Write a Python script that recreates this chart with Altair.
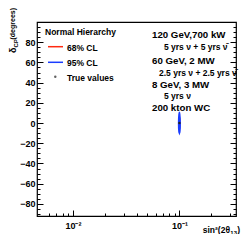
import altair as alt
import pandas as pd

# ---------------- data ----------------
c95_s2 = [0.1000, 0.1009, 0.1017, 0.1021, 0.1019, 0.1012, 0.1000, 0.0989, 0.0981, 0.0979, 0.0982, 0.0990]
c95_dcp = [11.0, 9.0, 5.0, 0.0, -5.0, -9.0, -10.5, -9.0, -5.0, 0.0, 5.0, 9.0]
c68_s2 = [0.1000, 0.1006, 0.1009, 0.1006, 0.1000, 0.0994, 0.0991, 0.0994]
c68_dcp = [6.0, 4.0, 0.0, -4.0, -6.0, -4.0, 0.0, 4.0]
true_s2 = [0.1]
true_dcp = [0.0]

legend_title = "Normal Hierarchy"
legend_labels = ["68% CL", "95% CL", "True values"]
legend_colors = ["#ff2a10", "#1a3cff", "#000000"]
info_lines = ["120 GeV,700 kW", "5 yrs \u03bd + 5 yrs \u03bd\u0304", "60 GeV, 2 MW",
              "2.5 yrs \u03bd + 2.5 yrs \u03bd\u0304", "8 GeV, 3 MW", "5 yrs \u03bd", "200 kton WC"]

x_major = [0.01, 0.1]
x_minor = [0.006, 0.007, 0.008, 0.009, 0.02, 0.03, 0.04, 0.05, 0.06, 0.07, 0.08, 0.09, 0.2, 0.3]
y_major = [-80, -60, -40, -20, 0, 20, 40, 60, 80]
y_minor = [-90, -85, -75, -70, -65, -55, -50, -45, -35, -30, -25, -15, -10, -5,
           5, 10, 15, 25, 30, 35, 45, 50, 55, 65, 70, 75, 85, 90, 95]
X_DOMAIN = [0.0046, 0.34]
Y_DOMAIN = [-92, 100]

FONT = "Liberation Sans"

c95 = pd.DataFrame({"s2": c95_s2, "dcp": c95_dcp, "o": list(range(len(c95_s2)))})
c68 = pd.DataFrame({"s2": c68_s2, "dcp": c68_dcp, "o": list(range(len(c68_s2)))})
tv = pd.DataFrame({"s2": true_s2, "dcp": true_dcp})

xs = alt.Scale(type="log", domain=X_DOMAIN, nice=False)
ys = alt.Scale(domain=Y_DOMAIN, nice=False, zero=False)


def tick_axis(orient, values, size):
    return alt.Axis(orient=orient, values=values, labels=False, domain=False, grid=False,
                    title=None, ticks=True, tickSize=size, offset=-size,
                    tickColor="black", tickWidth=1)


x_lab = alt.Axis(orient="bottom", values=x_major, ticks=False, domain=False, grid=False,
                 title=None, labelPadding=5, labelFont=FONT, labelFontSize=9,
                 labelFontWeight="bold", labelColor="black",
                 labelExpr="datum.value < 0.05 ? '10\u207b\u00b2' : '10\u207b\u00b9'")
y_lab = alt.Axis(orient="left", values=y_major, ticks=False, domain=False, grid=False,
                 title=None, labelPadding=2, labelFont=FONT, labelFontSize=9,
                 labelFontWeight="bold", labelColor="black")

red68 = alt.Chart(c68).mark_line(interpolate="linear-closed", color=legend_colors[0],
                                  strokeWidth=1.2).encode(
    x=alt.X("s2:Q", scale=xs, axis=x_lab),
    y=alt.Y("dcp:Q", scale=ys, axis=y_lab),
    order="o:Q")

blue95 = alt.Chart(c95).mark_line(interpolate="linear-closed", color=legend_colors[1],
                                  fill=legend_colors[1], strokeWidth=1.2).encode(
    x=alt.X("s2:Q", scale=xs, axis=tick_axis("bottom", x_major, 6)),
    y=alt.Y("dcp:Q", scale=ys, axis=tick_axis("left", y_major, 6)),
    order="o:Q")

truept = alt.Chart(tv).mark_point(shape="circle", filled=True, size=6, color="#202020",
                                  opacity=1).encode(
    x=alt.X("s2:Q", scale=xs, axis=tick_axis("bottom", x_minor, 3)),
    y=alt.Y("dcp:Q", scale=ys, axis=tick_axis("left", y_minor, 3)))

rmaj = alt.Chart(tv).mark_point(opacity=0).encode(
    x=alt.X("s2:Q", scale=xs, axis=None),
    y=alt.Y("dcp:Q", scale=ys, axis=tick_axis("right", y_major, 6)))
rmin = alt.Chart(tv).mark_point(opacity=0).encode(
    x=alt.X("s2:Q", scale=xs, axis=None),
    y=alt.Y("dcp:Q", scale=ys, axis=tick_axis("right", y_minor, 3)))

one = pd.DataFrame({"k": [0]})


def txt(s, x, y, size=9, weight="bold", align="left", angle=0, color="black"):
    return alt.Chart(one).mark_text(text=s, align=align, baseline="middle", font=FONT,
                                    fontSize=size, fontWeight=weight, angle=angle,
                                    color=color).encode(x=alt.value(x), y=alt.value(y))


layers = [red68, blue95, truept, rmaj, rmin]

# legend box
layers.append(txt(legend_title, 8, 10, size=8.5))
for lab, yy in zip(legend_labels, [25.7, 40.7, 55.7]):
    layers.append(txt(lab, 30, yy, size=8.5))
for col, yy in zip(legend_colors[:2], [24.7, 40.3]):
    layers.append(alt.Chart(one).mark_rule(color=col, strokeWidth=1.5).encode(
        x=alt.value(11), x2=alt.value(26), y=alt.value(yy)))
layers.append(alt.Chart(one).mark_point(shape="circle", filled=True, size=6,
                                        color="#202020").encode(
    x=alt.value(18.3), y=alt.value(54.7)))

# info block
info_x = [115, 127, 115, 122, 115, 127, 115]
info_y = [13, 24.7, 39.3, 51, 62.5, 74.3, 86]
info_size = [9.7, 8.5, 9.7, 8.5, 9.7, 8.5, 9.7]
for s, xx, yy, fs in zip(info_lines, info_x, info_y, info_size):
    layers.append(txt(s, xx, yy, size=fs))

# axis titles
layers.append(txt("\u03b4", -24, 31, size=9, angle=270))
layers.append(txt("CP", -21.5, 25.5, size=6, angle=270))
layers.append(txt("(degrees)", -24, 17.5, size=7, angle=270))
layers.append(txt("sin\u00b2(2\u03b8", 193, 208, size=8.5, align="right"))
layers.append(txt("13", 193.3, 210.5, size=6, align="left"))
layers.append(txt(")", 200.3, 208, size=8.5, align="left"))

chart = alt.layer(*layers).resolve_axis(x="independent", y="independent").properties(
    width=199, height=194,
    autosize=alt.AutoSizeParams(type="none"),
    padding={"left": 29, "top": 14, "right": 5, "bottom": 18},
    background="white",
).configure_view(stroke="black", strokeWidth=1.2)

chart.save("out.html", embed_options={"renderer": "svg", "actions": False})
